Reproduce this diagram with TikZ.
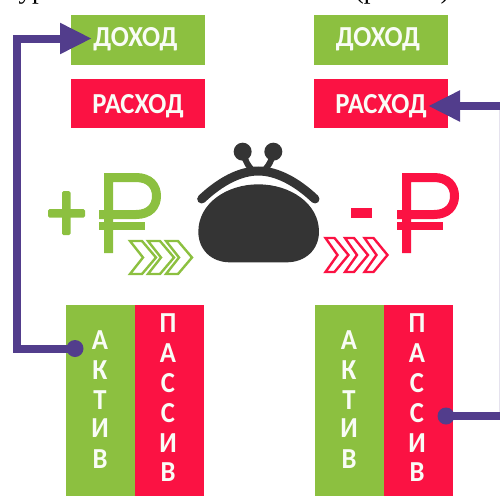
\documentclass[tikz,border=0pt]{standalone}
\usepackage{fontspec}
\setmainfont{Carlito}
\newfontfamily\topfont{Liberation Serif}
\newfontfamily\labfont[FakeStretch=0.92]{Carlito Bold}
\usetikzlibrary{arrows.meta}
\definecolor{grn}{HTML}{8CC040}
\definecolor{rd}{HTML}{FB1243}
\definecolor{pur}{HTML}{523D8C}
\definecolor{drk}{HTML}{343434}
\tikzset{
  flat/.style={draw=none,inner sep=0pt,outer sep=0pt},
  wide/.style={flat,minimum width=134pt,minimum height=50pt,anchor=north west},
  tall/.style={flat,minimum width=69pt,minimum height=191pt,anchor=north west},
  lab/.style={text=white!95!grn,font=\labfont\fontsize{29}{29}\selectfont,inner sep=0pt},
  lett/.style={text=white!95!grn,font=\labfont\fontsize{29}{29}\selectfont,inner sep=0pt},
  link/.style={draw=pur,line width=8pt,line join=miter},
  head/.style={-{Triangle[length=32pt,width=29pt]}},
  dot/.style={circle,fill=pur,minimum size=17pt,inner sep=0pt},
  rub/.style={line width=9pt,line cap=butt},
  chev/.style={line width=2.4pt,line join=miter},
  top/.style={text=black,font=\topfont\fontsize{27}{27}\selectfont,inner sep=0pt,anchor=base}
}
\begin{document}
\begin{tikzpicture}[x=1pt,y=-1pt]
\useasboundingbox (0,0) rectangle (500,496);
% clipped line of text at the top
\node[top] at (32,-2) {ур};
\node[top] at (366,-2) {(р};
\node[top] at (445,-2) {)};
% boxes
\node[wide,fill=grn] (dohL) at (71,15) {};
\node[wide,fill=rd,minimum height=49pt] (rasL) at (71,79) {};
\node[wide,fill=grn] (dohR) at (314,15) {};
\node[wide,fill=rd,minimum height=49pt] (rasR) at (314,79) {};
\node[tall,fill=grn] (actL) at (66,305) {};
\node[tall,fill=rd] (pasL) at (135,305) {};
\node[tall,fill=grn] (actR) at (315,305) {};
\node[tall,fill=rd] (pasR) at (384,305) {};
% box labels
\node[lab] (tDohL) at (135.5,39.5) {ДОХОД};
\node[lab] (tRasL) at (138,106) {РАСХОД};
\node[lab] (tDohR) at (378,39.5) {ДОХОД};
\node[lab] (tRasR) at (381,106) {РАСХОД};
% vertical words
\foreach \c/\y [count=\i] in {А/340,К/370,Т/400,И/428,В/459}{
  \node[lett] (aL\i) at (100,\y) {\c};
  \node[lett] (aR\i) at (349,\y) {\c};
}
\foreach \c/\y [count=\i] in {П/323,А/353,С/383,С/413,И/443,В/472}{
  \node[lett] (pL\i) at (168,\y) {\c};
  \node[lett] (pR\i) at (417,\y) {\c};
}
% connectors
\coordinate (cornerB) at (16.5,348.5);
\coordinate (cornerT) at (16.5,38.5);
\coordinate (tipL) at (92,38.5);
\coordinate (edgeT) at (500,106);
\coordinate (edgeB) at (500,416);
\coordinate (tipR) at (428,106);
\node[dot] (dotL) at (75,348.5) {};
\node[dot] (dotR) at (446,416) {};
\draw[pur!15,line width=1pt] (499.5,106) -- (499.5,416);
\draw[link,head] (dotL.center) -- (cornerB) -- (cornerT) -- (tipL);
\draw[link,head] (edgeT) -- (tipR);
\draw[link] (dotR.center) -- (edgeB);
% plus / minus
\fill[grn,rounded corners=1.5pt] (48,209) rectangle (85,217.5);
\fill[grn,rounded corners=1.5pt] (62,191) rectangle (70.5,235);
\fill[rd] (351,207.5) rectangle (372,218);
% rubles
\foreach \dx/\col in {0/grn,298/rd}{
  \begin{scope}[xshift=\dx pt,draw=\col]
    \draw[rub] (108.5,253) -- (108.5,177.5) -- (136,177.5)
       .. controls (150,177.5) and (156.5,186) .. (156.5,196)
       .. controls (156.5,206) and (150,214.5) .. (136,214.5) -- (99,214.5);
    \draw[rub,line width=8pt] (99,226) -- (145,226);
  \end{scope}
}
% chevrons
\foreach \b in {130,148,166}{
  \draw[grn,chev] (\b,241) -- (\b+12,241) -- (\b+26,257.5) -- (\b+12,274) -- (\b,274) -- (\b+13,257.5) -- cycle;
}
\foreach \b in {325.5,345,364.5}{
  \draw[rd,chev] (\b,238) -- (\b+9,238) -- (\b+23,255) -- (\b+9,272) -- (\b,272) -- (\b+12,255) -- cycle;
}
% purse
\begin{scope}[shift={(190,135)},x=0.3333pt,y=-0.3333pt]
  \fill[drk] (205,148) .. controls (110,148) and (25,205) .. (25,290)
     .. controls (25,345) and (65,382) .. (120,382)
     -- (290,382) .. controls (345,382) and (387,345) .. (387,290)
     .. controls (387,205) and (300,148) .. (205,148) -- cycle;
  \draw[drk,line width=9pt,line cap=round] (35,192) .. controls (90,140) and (150,108) .. (205,108)
     .. controls (260,108) and (320,140) .. (375,192);
  \draw[drk,line width=6pt] (160,55) .. controls (168,85) and (180,100) .. (190,108);
  \draw[drk,line width=6pt] (250,55) .. controls (242,85) and (230,100) .. (220,108);
  \fill[drk] (158,50) circle[radius=27];
  \fill[drk] (250,50) circle[radius=27];
\end{scope}
\end{tikzpicture}
\end{document}
